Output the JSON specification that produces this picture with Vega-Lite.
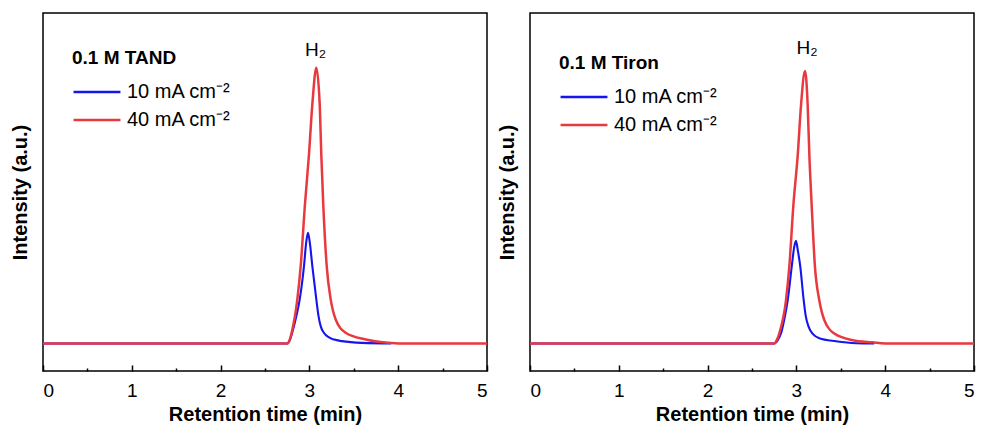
{
  "$schema": "https://vega.github.io/schema/vega-lite/v6.json",
  "padding": {"left": 9, "top": 12, "right": 0, "bottom": 0},
  "config": {
    "font": "Liberation Sans",
    "view": {"stroke": "black", "strokeWidth": 1.5},
    "axis": {"grid": false, "domain": false, "labelColor": "black", "titleColor": "black", "tickColor": "black", "tickWidth": 1.5, "titleFontSize": 20, "titleFontWeight": "bold", "labelFontSize": 19, "labelFont": "Liberation Sans", "titleFont": "Liberation Sans"},
    "legend": {"orient": "none", "padding": 0, "titleFontSize": 19, "titleFontWeight": "bold", "titleColor": "black", "labelFontSize": 20, "labelColor": "black", "symbolType": "stroke", "symbolStrokeWidth": 2.5, "symbolSize": 2200, "clipHeight": 20, "rowPadding": 8, "titlePadding": 14, "labelOffset": 5, "labelFont": "Liberation Sans", "titleFont": "Liberation Sans"},
    "concat": {"spacing": 3}
  },
  "datasets": {
    "tand": [
      {"t": 0, "v": 0, "series": "10 mA cm⁻²"},
      {"t": 2.75, "v": 0, "series": "10 mA cm⁻²"},
      {"t": 2.78, "v": 1.2, "series": "10 mA cm⁻²"},
      {"t": 2.807, "v": 4.0, "series": "10 mA cm⁻²"},
      {"t": 2.85, "v": 9.5, "series": "10 mA cm⁻²"},
      {"t": 2.891, "v": 16.0, "series": "10 mA cm⁻²"},
      {"t": 2.939, "v": 28.1, "series": "10 mA cm⁻²"},
      {"t": 2.965, "v": 37.0, "series": "10 mA cm⁻²"},
      {"t": 2.984, "v": 40.2, "series": "10 mA cm⁻²"},
      {"t": 3.005, "v": 36.5, "series": "10 mA cm⁻²"},
      {"t": 3.033, "v": 28.1, "series": "10 mA cm⁻²"},
      {"t": 3.078, "v": 16.0, "series": "10 mA cm⁻²"},
      {"t": 3.10, "v": 10.5, "series": "10 mA cm⁻²"},
      {"t": 3.127, "v": 6.3, "series": "10 mA cm⁻²"},
      {"t": 3.165, "v": 3.8, "series": "10 mA cm⁻²"},
      {"t": 3.221, "v": 2.2, "series": "10 mA cm⁻²"},
      {"t": 3.28, "v": 1.4, "series": "10 mA cm⁻²"},
      {"t": 3.367, "v": 0.84, "series": "10 mA cm⁻²"},
      {"t": 3.592, "v": 0.2, "series": "10 mA cm⁻²"},
      {"t": 3.92, "v": 0, "series": "10 mA cm⁻²"},
      {"t": 0, "v": 0, "series": "40 mA cm⁻²"},
      {"t": 2.748, "v": 0, "series": "40 mA cm⁻²"},
      {"t": 2.78, "v": 1.5, "series": "40 mA cm⁻²"},
      {"t": 2.80, "v": 3.9, "series": "40 mA cm⁻²"},
      {"t": 2.864, "v": 16.0, "series": "40 mA cm⁻²"},
      {"t": 2.902, "v": 28.1, "series": "40 mA cm⁻²"},
      {"t": 2.95, "v": 50.5, "series": "40 mA cm⁻²"},
      {"t": 2.995, "v": 68.6, "series": "40 mA cm⁻²"},
      {"t": 3.033, "v": 86.8, "series": "40 mA cm⁻²"},
      {"t": 3.078, "v": 100.1, "series": "40 mA cm⁻²"},
      {"t": 3.116, "v": 86.8, "series": "40 mA cm⁻²"},
      {"t": 3.134, "v": 68.6, "series": "40 mA cm⁻²"},
      {"t": 3.156, "v": 50.5, "series": "40 mA cm⁻²"},
      {"t": 3.195, "v": 28.1, "series": "40 mA cm⁻²"},
      {"t": 3.24, "v": 16.0, "series": "40 mA cm⁻²"},
      {"t": 3.296, "v": 8.7, "series": "40 mA cm⁻²"},
      {"t": 3.408, "v": 3.9, "series": "40 mA cm⁻²"},
      {"t": 3.634, "v": 1.45, "series": "40 mA cm⁻²"},
      {"t": 3.896, "v": 0.25, "series": "40 mA cm⁻²"},
      {"t": 4.0, "v": 0, "series": "40 mA cm⁻²"},
      {"t": 5, "v": 0, "series": "40 mA cm⁻²"}
    ],
    "tiron": [
      {"t": 0, "v": 0, "series": "10 mA cm⁻²"},
      {"t": 2.751, "v": 0, "series": "10 mA cm⁻²"},
      {"t": 2.79, "v": 1.2, "series": "10 mA cm⁻²"},
      {"t": 2.826, "v": 3.6, "series": "10 mA cm⁻²"},
      {"t": 2.865, "v": 9.0, "series": "10 mA cm⁻²"},
      {"t": 2.902, "v": 15.7, "series": "10 mA cm⁻²"},
      {"t": 2.947, "v": 27.8, "series": "10 mA cm⁻²"},
      {"t": 2.975, "v": 35.0, "series": "10 mA cm⁻²"},
      {"t": 2.995, "v": 37.3, "series": "10 mA cm⁻²"},
      {"t": 3.015, "v": 34.0, "series": "10 mA cm⁻²"},
      {"t": 3.044, "v": 27.8, "series": "10 mA cm⁻²"},
      {"t": 3.082, "v": 15.7, "series": "10 mA cm⁻²"},
      {"t": 3.105, "v": 10.0, "series": "10 mA cm⁻²"},
      {"t": 3.138, "v": 6.0, "series": "10 mA cm⁻²"},
      {"t": 3.19, "v": 3.3, "series": "10 mA cm⁻²"},
      {"t": 3.258, "v": 1.9, "series": "10 mA cm⁻²"},
      {"t": 3.446, "v": 0.8, "series": "10 mA cm⁻²"},
      {"t": 3.671, "v": 0.1, "series": "10 mA cm⁻²"},
      {"t": 3.877, "v": 0, "series": "10 mA cm⁻²"},
      {"t": 0, "v": 0, "series": "40 mA cm⁻²"},
      {"t": 2.75, "v": 0, "series": "40 mA cm⁻²"},
      {"t": 2.78, "v": 1.3, "series": "40 mA cm⁻²"},
      {"t": 2.807, "v": 3.6, "series": "40 mA cm⁻²"},
      {"t": 2.883, "v": 15.7, "series": "40 mA cm⁻²"},
      {"t": 2.92, "v": 27.8, "series": "40 mA cm⁻²"},
      {"t": 2.966, "v": 50.2, "series": "40 mA cm⁻²"},
      {"t": 3.015, "v": 68.4, "series": "40 mA cm⁻²"},
      {"t": 3.052, "v": 86.5, "series": "40 mA cm⁻²"},
      {"t": 3.097, "v": 98.9, "series": "40 mA cm⁻²"},
      {"t": 3.127, "v": 86.5, "series": "40 mA cm⁻²"},
      {"t": 3.146, "v": 68.4, "series": "40 mA cm⁻²"},
      {"t": 3.172, "v": 50.2, "series": "40 mA cm⁻²"},
      {"t": 3.209, "v": 27.8, "series": "40 mA cm⁻²"},
      {"t": 3.258, "v": 15.7, "series": "40 mA cm⁻²"},
      {"t": 3.314, "v": 8.5, "series": "40 mA cm⁻²"},
      {"t": 3.427, "v": 3.6, "series": "40 mA cm⁻²"},
      {"t": 3.634, "v": 1.2, "series": "40 mA cm⁻²"},
      {"t": 3.859, "v": 0.4, "series": "40 mA cm⁻²"},
      {"t": 4.0, "v": 0, "series": "40 mA cm⁻²"},
      {"t": 5, "v": 0, "series": "40 mA cm⁻²"}
    ]
  },
  "resolve": {"legend": {"color": "independent"}},
  "hconcat": [
    {
      "width": 444,
      "height": 358,
      "layer": [
        {
          "data": {"name": "tand"},
          "transform": [{"filter": "datum.series === '10 mA cm⁻²'"}],
          "mark": {"type": "line", "strokeWidth": 2.1, "interpolate": "monotone"},
          "encoding": {
            "x": {"field": "t", "type": "quantitative", "scale": {"domain": [0, 5], "nice": false},
                  "axis": {"orient": "bottom", "values": [0, 1, 2, 3, 4, 5], "tickSize": -6, "labelPadding": 16, "title": "Retention time (min)", "titlePadding": 4}},
            "y": {"field": "v", "type": "quantitative", "scale": {"domain": [-10, 120], "nice": false},
                  "axis": {"title": "Intensity (a.u.)", "labels": false, "ticks": false, "titlePadding": 13}},
            "color": {"field": "series", "type": "nominal",
                      "scale": {"domain": ["10 mA cm⁻²", "40 mA cm⁻²"], "range": ["#1515ee", "#e8393f"]},
                      "legend": {"title": "0.1 M TAND", "legendX": 29, "legendY": 36}}
          }
        },
        {
          "data": {"name": "tand"},
          "transform": [{"filter": "datum.series === '40 mA cm⁻²'"}],
          "mark": {"type": "line", "strokeWidth": 2.5, "interpolate": "monotone"},
          "encoding": {
            "x": {"field": "t", "type": "quantitative",
                  "axis": {"orient": "bottom", "values": [0.5, 1.5, 2.5, 3.5, 4.5], "tickSize": -3, "labels": false, "title": null}},
            "y": {"field": "v", "type": "quantitative"},
            "color": {"field": "series", "type": "nominal"}
          }
        },
        {
          "data": {"values": [{"t": 3.07, "v": 106.6, "label": "H₂"}]},
          "mark": {"type": "text", "fontSize": 19, "baseline": "middle", "color": "black"},
          "encoding": {
            "x": {"field": "t", "type": "quantitative", "axis": null},
            "y": {"field": "v", "type": "quantitative"},
            "text": {"field": "label"}
          }
        }
      ],
      "resolve": {"axis": {"x": "independent"}}
    },
    {
      "width": 444,
      "height": 358,
      "layer": [
        {
          "data": {"name": "tiron"},
          "transform": [{"filter": "datum.series === '10 mA cm⁻²'"}],
          "mark": {"type": "line", "strokeWidth": 2.1, "interpolate": "monotone"},
          "encoding": {
            "x": {"field": "t", "type": "quantitative", "scale": {"domain": [0, 5], "nice": false},
                  "axis": {"orient": "bottom", "values": [0, 1, 2, 3, 4, 5], "tickSize": -6, "labelPadding": 16, "title": "Retention time (min)", "titlePadding": 4}},
            "y": {"field": "v", "type": "quantitative", "scale": {"domain": [-10, 120], "nice": false},
                  "axis": {"title": "Intensity (a.u.)", "labels": false, "ticks": false, "titlePadding": 13}},
            "color": {"field": "series", "type": "nominal",
                      "scale": {"domain": ["10 mA cm⁻²", "40 mA cm⁻²"], "range": ["#1515ee", "#e8393f"]},
                      "legend": {"title": "0.1 M Tiron", "legendX": 29, "legendY": 41}}
          }
        },
        {
          "data": {"name": "tiron"},
          "transform": [{"filter": "datum.series === '40 mA cm⁻²'"}],
          "mark": {"type": "line", "strokeWidth": 2.5, "interpolate": "monotone"},
          "encoding": {
            "x": {"field": "t", "type": "quantitative",
                  "axis": {"orient": "bottom", "values": [0.5, 1.5, 2.5, 3.5, 4.5], "tickSize": -3, "labels": false, "title": null}},
            "y": {"field": "v", "type": "quantitative"},
            "color": {"field": "series", "type": "nominal"}
          }
        },
        {
          "data": {"values": [{"t": 3.12, "v": 107.2, "label": "H₂"}]},
          "mark": {"type": "text", "fontSize": 19, "baseline": "middle", "color": "black"},
          "encoding": {
            "x": {"field": "t", "type": "quantitative", "axis": null},
            "y": {"field": "v", "type": "quantitative"},
            "text": {"field": "label"}
          }
        }
      ],
      "resolve": {"axis": {"x": "independent"}}
    }
  ]
}
